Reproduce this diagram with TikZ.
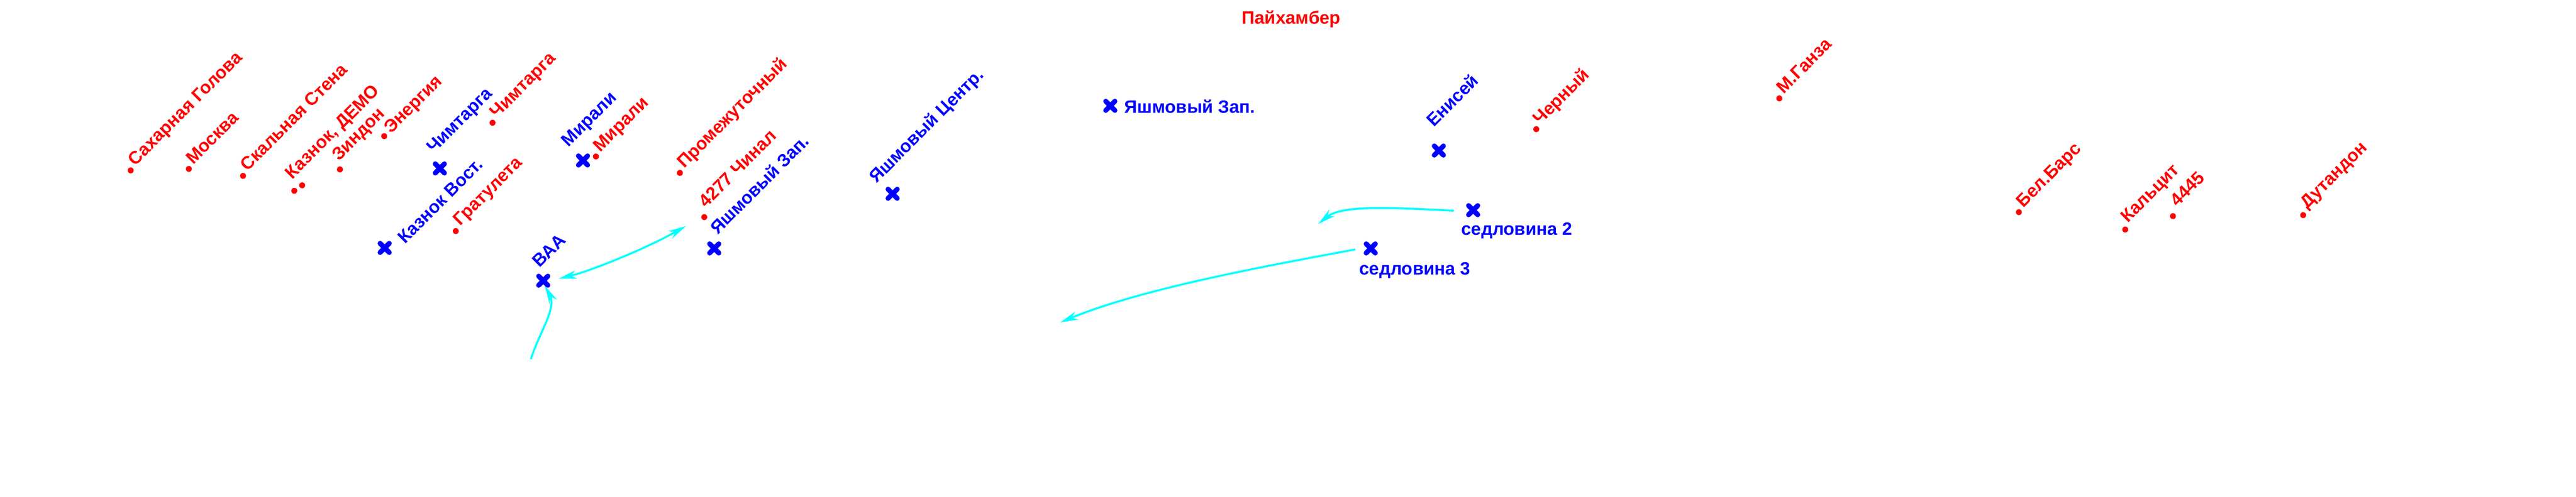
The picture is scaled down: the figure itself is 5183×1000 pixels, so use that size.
\documentclass[tikz,border=0pt]{standalone}
\usepackage{fontspec}
\setmainfont{Liberation Sans}
\usetikzlibrary{arrows.meta}
\definecolor{cyanline}{RGB}{0,255,255}
\begin{document}
\begin{tikzpicture}[x=1pt,y=-1pt,
  lab/.style={rotate=45,anchor=base west,inner sep=0pt,font=\bfseries\fontsize{36}{40}\selectfont},
  hlab/.style={anchor=base west,inner sep=0pt,font=\bfseries\fontsize{36}{40}\selectfont},
  rlab/.style={lab,text=red},
  blab/.style={lab,text=blue},
  rdot/.style={circle,fill=red,inner sep=0pt,minimum size=12pt},
  xmark/.style={inner sep=0pt,minimum size=18pt},
  xstroke/.style={draw=blue,line width=10pt,line cap=round},
  cyhead/.tip={Stealth[length=36pt,width=17pt,inset=11pt]},
  arr/.style={draw=cyanline,line width=4pt,-{cyhead}},
  darr/.style={draw=cyanline,line width=4pt,{cyhead}-{cyhead}},
]
\fill[white] (0,0) rectangle (5183,1000);
\useasboundingbox (0,0) rectangle (5183,1000);

% title
\node[anchor=base,inner sep=0pt,text=red,font=\bfseries\fontsize{36}{40}\selectfont] (title) at (2598,48) {Пайхамбер};

% red points
\node[rdot] (sg)  at (263,343) {};
\node[rdot] (msk) at (380,340) {};
\node[rdot] (sks) at (489,354) {};
\node[rdot] (kd1) at (592,384) {};
\node[rdot] (kd2) at (608,373) {};
\node[rdot] (zin) at (684,341) {};
\node[rdot] (enr) at (773,274) {};
\node[rdot] (chr) at (991,247) {};
\node[rdot] (grat) at (917,465) {};
\node[rdot] (mirr) at (1199,315) {};
\node[rdot] (prom) at (1368,348) {};
\node[rdot] (chin) at (1417,437) {};
\node[rdot] (blk) at (3091,260) {};
\node[rdot] (mg)  at (3580,198) {};
\node[rdot] (bb)  at (4062,427) {};
\node[rdot] (kal) at (4276,462) {};
\node[rdot] (f445) at (4372,435) {};
\node[rdot] (dut) at (4634,433) {};

% red labels
\node[rlab] (lsg)  at (272,335) {Сахарная Голова};
\node[rlab] (lmsk) at (389,332) {Москва};
\node[rlab] (lsks) at (498,346) {Скальная Стена};
\node[rlab] (lkd)  at (588,362) {Казнок, ДЕМО};
\node[rlab] (lzin) at (682,325) {Зиндон};
\node[rlab] (lenr) at (787,270) {Энергия};
\node[rlab] (lchr) at (1000,239) {Чимтарга};
\node[rlab] (lgrat) at (926,456) {Гратулета};
\node[rlab] (lmirr) at (1208,307) {Мирали};
\node[rlab] (lprom) at (1377,340) {Промежуточный};
\node[rlab] (lchin) at (1421,419) {4277 Чинал};
\node[rlab] (lblk) at (3099,253) {Черный};
\node[rlab] (lmg)  at (3589,190) {М.Ганза};
\node[rlab] (lbb)  at (4071,419) {Бел.Барс};
\node[rlab] (lkal) at (4281,450) {Кальцит};
\node[rlab] (lf445) at (4381,417) {4445};
\node[rlab] (ldut) at (4642,421) {Дутандон};

% blue points
\node[xmark] (kv)   at (774,499) {};
\node[xmark] (chb)  at (885,339) {};
\node[xmark] (mirb) at (1173,323) {};
\node[xmark] (vaa)  at (1093,565) {};
\node[xmark] (yzr)  at (1437,500) {};
\node[xmark] (yc)   at (1796,390) {};
\node[xmark] (yz)   at (2234,213) {};
\node[xmark] (ens)  at (2895,303) {};
\node[xmark] (s2)   at (2964,423) {};
\node[xmark] (s3)   at (2758,500) {};
\foreach \n in {kv,chb,mirb,vaa,yzr,yc,yz,ens,s2,s3}
  \draw[xstroke] (\n.north west) -- (\n.south east) (\n.north east) -- (\n.south west);

% blue labels
\node[blab] (lkv)   at (815,492) {Казнок Вост.};
\node[blab] (lchb)  at (873,310) {Чимтарга};
\node[blab] (lmirb) at (1144,297) {Мирали};
\node[blab] (lvaa)  at (1086,540) {ВАА};
\node[blab] (lyzr)  at (1444,473) {Яшмовый Зап.};
\node[blab] (lyc)   at (1764,370) {Яшмовый Центр.};
\node[hlab,text=blue] (lyz) at (2262,228) {Яшмовый Зап.};
\node[blab] (lens)  at (2885,257) {Енисей};
\node[hlab,text=blue] (ls2) at (2940,473) {седловина 2};
\node[hlab,text=blue] (ls3) at (2735,553) {седловина 3};

% arrow end points
\coordinate (a1s) at (1124,561);
\coordinate (a1e) at (1380,455);
\coordinate (a2s) at (1068,723);
\coordinate (a2e) at (1096,575);
\coordinate (a3s) at (2925,424);
\coordinate (a3e) at (2652,451);
\coordinate (a4s) at (2727,502);
\coordinate (a4e) at (2133,649);

\draw[darr] (a1s) .. controls (1190,545) and (1300,500) .. (a1e);
\draw[arr] (a2s) .. controls (1085,670) and (1120,620) .. (a2e);
\draw[arr] (a3s) .. controls (2800,418) and (2700,412) .. (a3e);
\draw[arr] (a4s) .. controls (2550,535) and (2300,580) .. (a4e);
\end{tikzpicture}
\end{document}
